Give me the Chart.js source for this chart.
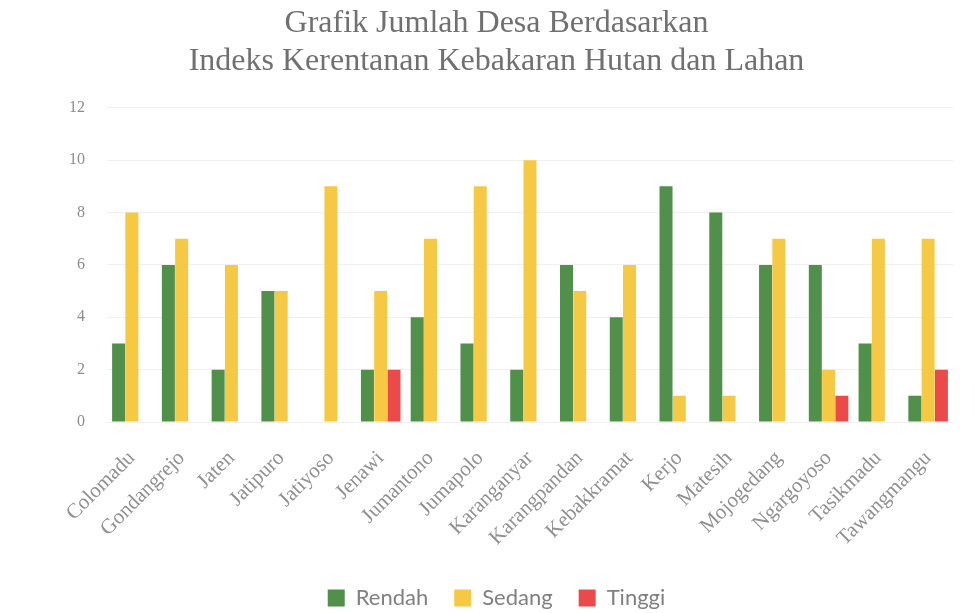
<!DOCTYPE html>
<html>
<head>
<meta charset="utf-8">
<script src="https://cdn.jsdelivr.net/npm/chart.js@4.4.1/dist/chart.umd.min.js"></script>
<style>
  html, body { margin: 0; padding: 0; background: #fff; }
  #wrap { width: 975px; height: 613px; position: relative; }
</style>
</head>
<body>
<div id="wrap"><canvas id="desaChart"></canvas></div>
<script>
const kecamatan = ["Colomadu", "Gondangrejo", "Jaten", "Jatipuro", "Jatiyoso", "Jenawi", "Jumantono",
    "Jumapolo", "Karanganyar", "Karangpandan", "Kebakkramat", "Kerjo", "Matesih", "Mojogedang",
    "Ngargoyoso", "Tasikmadu", "Tawangmangu"];
const rendah = [3, 6, 2, 5, 0, 2, 4, 3, 2, 6, 4, 9, 8, 6, 6, 3, 1];
const sedang = [8, 7, 6, 5, 9, 5, 7, 9, 10, 5, 6, 1, 1, 7, 2, 7, 7];
const tinggi = [0, 0, 0, 0, 0, 2, 0, 0, 0, 0, 0, 0, 0, 0, 1, 0, 2];
const yTicks = [0, 2, 4, 6, 8, 10, 12];

const serif = "'Liberation Serif', 'DejaVu Serif', serif";

const ctx = document.getElementById("desaChart").getContext("2d");
new Chart(ctx, {
    type: "bar",
    data: {
        labels: kecamatan,
        datasets: [
            { label: "Rendah", data: rendah, backgroundColor: "#51904a" },
            { label: "Sedang", data: sedang, backgroundColor: "#f6c944" },
            { label: "Tinggi", data: tinggi, backgroundColor: "#ec4a4a" }
        ]
    },
    options: {
        responsive: true,
        maintainAspectRatio: false,
        animation: false,
        // left padding shifts the title/legend centre to the right like the original
        layout: { padding: { left: 40, right: 22, top: 0, bottom: -6 } },
        datasets: { bar: { categoryPercentage: 0.8, barPercentage: 0.98 } },
        plugins: {
            title: {
                display: true,
                text: ["Grafik Jumlah Desa Berdasarkan", "Indeks Kerentanan Kebakaran Hutan dan Lahan"],
                color: "#707070",
                font: { family: serif, size: 32, weight: "normal", lineHeight: 1.2 },
                padding: { top: 4, bottom: 27 }
            },
            legend: {
                position: "bottom",
                labels: {
                    color: "#808080",
                    boxWidth: 17,
                    boxHeight: 17,
                    padding: 26,
                    font: { family: "Lato, 'Open Sans', sans-serif", size: 22 }
                }
            },
            tooltip: { enabled: false }
        },
        scales: {
            x: {
                afterFit: axis => { axis.height = 139; },
                grid: { display: false },
                border: { display: false },
                ticks: {
                    color: "#909090",
                    minRotation: 45,
                    maxRotation: 45,
                    padding: 16,
                    font: { family: serif, size: 21 }
                }
            },
            y: {
                min: 0,
                max: 12,
                afterFit: axis => { axis.width = 67; },
                afterBuildTicks: axis => { axis.ticks = yTicks.map(v => ({ value: v })); },
                grid: { color: "#f0f0f0", drawTicks: false },
                border: { display: false },
                ticks: {
                    color: "#8c8c8c",
                    padding: 22,
                    font: { family: serif, size: 16 }
                }
            }
        }
    }
});
</script>
</body>
</html>
